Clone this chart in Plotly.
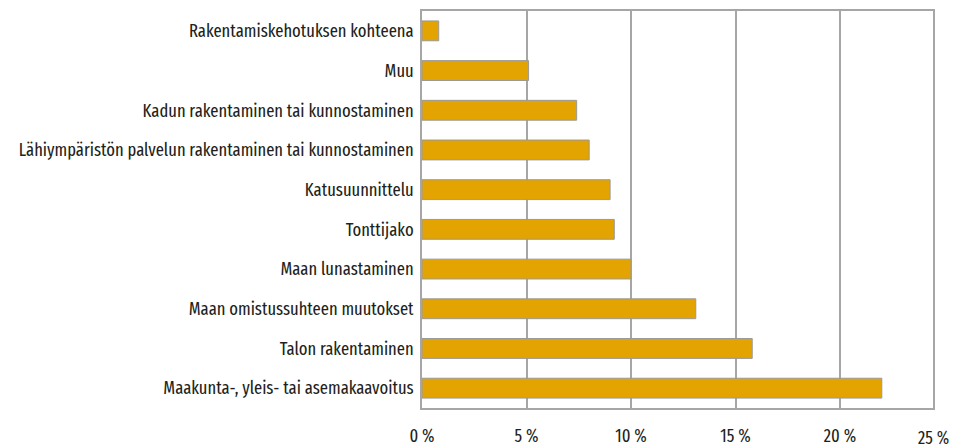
import plotly.graph_objects as go

categories = [
    "Rakentamiskehotuksen kohteena",
    "Muu",
    "Kadun rakentaminen tai kunnostaminen",
    "Lähiympäristön palvelun rakentaminen tai kunnostaminen",
    "Katusuunnittelu",
    "Tonttijako",
    "Maan lunastaminen",
    "Maan omistussuhteen muutokset",
    "Talon rakentaminen",
    "Maakunta-, yleis- tai asemakaavoitus",
]
values = [0.8, 5.1, 7.4, 8.0, 9.0, 9.2, 10.0, 13.1, 15.8, 22.0]

tick_vals = [0, 5, 10, 15, 20]
tick_text = ["0 %", "5 %", "10 %", "15 %", "20 %"]
last_tick_label = "25 %"

FONT = "Fira Sans Extra Condensed, PT Sans Narrow, DejaVu Sans Condensed, sans-serif"
GRID = "#a6a6a6"
TEXT = "#231f20"

fig = go.Figure(
    go.Bar(
        x=values,
        y=categories,
        orientation="h",
        marker=dict(color="#e3a300", line=dict(color="#999999", width=1)),
        width=0.5,
    )
)

fig.update_layout(
    width=957,
    height=448,
    margin=dict(l=422, r=24, t=11, b=40, autoexpand=False),
    paper_bgcolor="white",
    plot_bgcolor="white",
    showlegend=False,
    font=dict(family=FONT, size=18, color=TEXT),
    annotations=[
        dict(
            text=last_tick_label,
            x=1, xref="paper", y=0, yref="paper",
            xanchor="center", yanchor="top", yshift=-17,
            showarrow=False,
            font=dict(family=FONT, size=18, color=TEXT),
        )
    ],
)

fig.update_xaxes(
    range=[0, 24.45],
    tickvals=tick_vals,
    ticktext=tick_text,
    showgrid=True,
    gridcolor=GRID,
    gridwidth=1.5,
    zeroline=False,
    showline=True,
    linecolor=GRID,
    linewidth=1.5,
    mirror=True,
    ticks="",
    automargin=False,
    ticklabelstandoff=11,
)
fig.update_yaxes(
    autorange="reversed",
    showgrid=False,
    zeroline=False,
    showline=True,
    linecolor=GRID,
    linewidth=1.5,
    mirror=True,
    ticks="",
    automargin=False,
    ticklabelstandoff=3,
)

fig.write_html(
    "out.html",
    config={"displayModeBar": False},
    post_script="document.body.style.margin='0';document.body.style.overflow='hidden';",
)
